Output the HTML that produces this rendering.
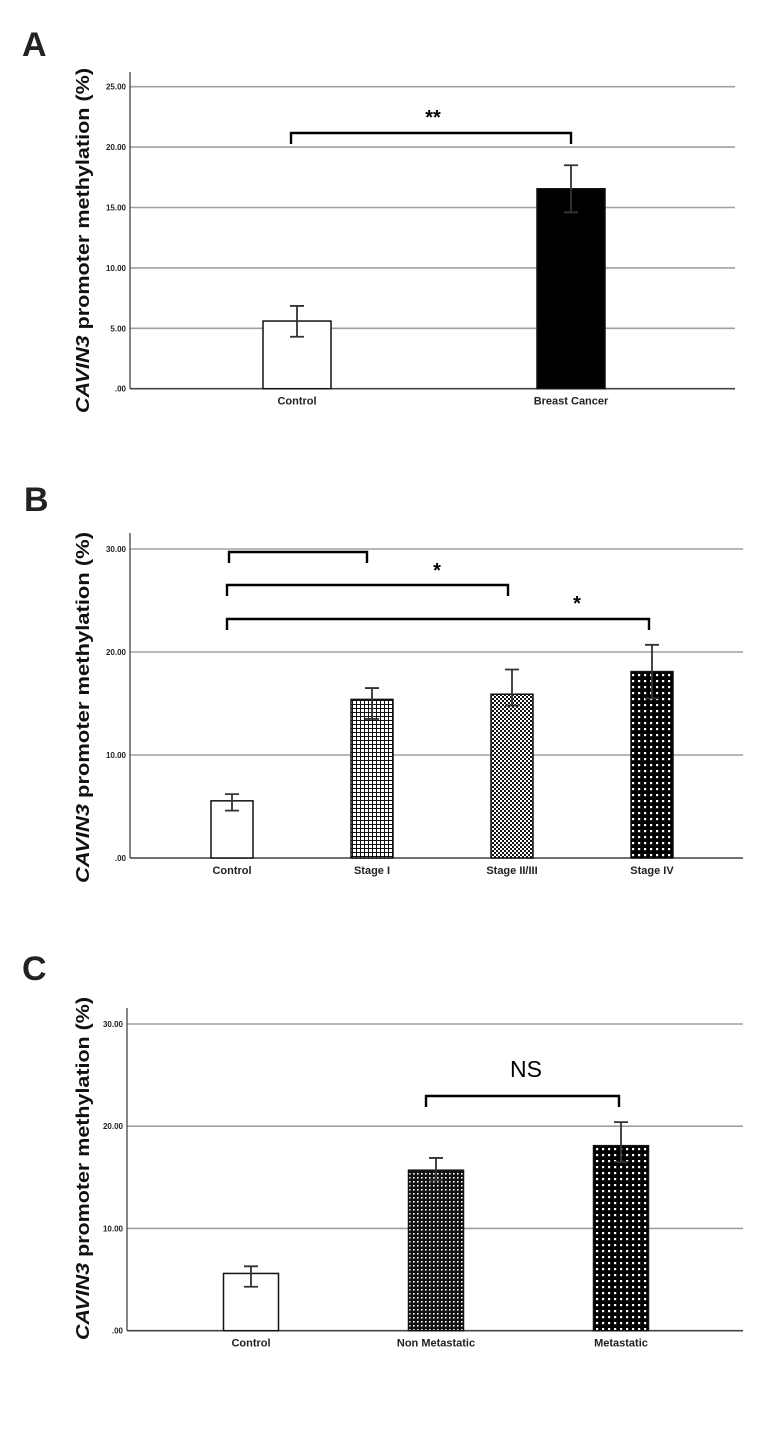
<!DOCTYPE html>
<html><head><meta charset="utf-8"><style>
html,body{margin:0;padding:0;background:#fff;}
svg{display:block;}
text{font-family:"Liberation Sans Narrow","Liberation Sans",sans-serif;}
</style></head><body>
<svg id="fig" width="771" height="1437" viewBox="0 0 771 1437" xmlns="http://www.w3.org/2000/svg">
<defs>
<pattern id="pGrid" width="4" height="4" patternUnits="userSpaceOnUse"><rect width="4" height="4" fill="#fff"/><path d="M0 0.5H4M0.5 0V4" stroke="#111" stroke-width="1"/></pattern>
<pattern id="pChk" width="4" height="4" patternUnits="userSpaceOnUse"><rect width="4" height="4" fill="#111"/><rect x="0" y="0" width="2" height="2" fill="#fff"/><rect x="2" y="2" width="2" height="2" fill="#fff"/></pattern>
<pattern id="pDot" width="6" height="6" patternUnits="userSpaceOnUse"><rect width="6" height="6" fill="#000"/><rect x="2" y="2" width="2.2" height="2.2" fill="#fff"/></pattern>
<pattern id="pFine" width="4" height="4" patternUnits="userSpaceOnUse"><rect width="4" height="4" fill="#111"/><rect x="1" y="1" width="1.6" height="1.6" fill="#fff"/></pattern>
</defs>
</svg>
<script>
// Panel A data
const catsA = ["Control","Breast Cancer"];
const valsA = [5.6, 16.55];
const errLoA = [4.3, 14.6];
const errHiA = [6.85, 18.5];
const ticksA = [0,5,10,15,20,25];
const tickLabelsA = [".00","5.00","10.00","15.00","20.00","25.00"];
// Panel B data
const catsB = ["Control","Stage I","Stage II/III","Stage IV"];
const valsB = [5.55, 15.4, 15.9, 18.1];
const errLoB = [4.6, 13.5, 14.8, 15.5];
const errHiB = [6.2, 16.5, 18.3, 20.7];
const ticksB = [0,10,20,30];
const tickLabelsB = [".00","10.00","20.00","30.00"];
// Panel C data
const catsC = ["Control","Non Metastatic","Metastatic"];
const valsC = [5.6, 15.7, 18.1];
const errLoC = [4.3, 14.7, 16.5];
const errHiC = [6.3, 16.9, 20.4];
const ticksC = [0,10,20,30];
const tickLabelsC = [".00","10.00","20.00","30.00"];

const NS="http://www.w3.org/2000/svg";
const svg=document.getElementById('fig');
function mk(tag,attrs,parent){const e=document.createElementNS(NS,tag);for(const k in attrs)e.setAttribute(k,attrs[k]);(parent||svg).appendChild(e);return e;}

function panel(cfg){
  const g=mk('g',{});
  
  
  const y=v=>cfg.y0-(v/cfg.vmax)*(cfg.y0-cfg.yTop);
  const lbl=mk('text',{x:cfg.lx,y:cfg.ly,'font-size':34,'font-weight':'bold',fill:'#222','font-family':'Liberation Sans, sans-serif'},g);
  lbl.textContent=cfg.id.toUpperCase();
  
  
  cfg.ticks.forEach((t,i)=>{
    if(t>0){const gl=mk('line',{x1:cfg.ax,x2:cfg.right,y1:y(t),y2:y(t),stroke:'#a0a0a0','stroke-width':1.6},g);
      
      }
    const tl=mk('text',{x:cfg.ax-4,y:y(t)+3,'font-size':8,'font-weight':'bold','text-anchor':'end',fill:'#222'},g);
    tl.textContent=cfg.tickLabels[i];
    
    
  });
  const ya=mk('line',{x1:cfg.ax,x2:cfg.ax,y1:cfg.axTop,y2:cfg.y0,stroke:'#444','stroke-width':1.3},g);
  
  
  const xa=mk('line',{x1:cfg.ax,x2:cfg.right,y1:cfg.y0,y2:cfg.y0,stroke:'#444','stroke-width':1.6},g);
  
  
  cfg.cats.forEach((c,i)=>{
    const cx=cfg.c0+i*cfg.step;
    const b=mk('rect',{x:cx-cfg.bw/2,y:y(cfg.vals[i]),width:cfg.bw,height:cfg.y0-y(cfg.vals[i]),fill:cfg.fills[i],stroke:'#111','stroke-width':1.5},g);
    
    
    const e=mk('path',{d:`M${cx} ${y(cfg.errLo[i])}V${y(cfg.errHi[i])}M${cx-7} ${y(cfg.errHi[i])}H${cx+7}M${cx-7} ${y(cfg.errLo[i])}H${cx+7}`,stroke:'#333','stroke-width':1.8,fill:'none'},g);
    
    
    const t=mk('text',{x:cx,y:cfg.y0+16,'font-size':11,'font-weight':'bold','text-anchor':'middle',fill:'#222'},g);
    t.textContent=c;
    
    
  });
  const cy=(cfg.titleTop+cfg.titleBot)/2;
  const tt=mk('text',{x:0,y:0,'font-size':18,'font-weight':'bold','text-anchor':'middle',fill:'#111','font-family':'Liberation Sans, sans-serif',transform:`translate(${cfg.titleX},${cy}) rotate(-90)`,textLength:cfg.titleBot-cfg.titleTop,lengthAdjust:'spacingAndGlyphs'},g);
  tt.innerHTML='<tspan font-style="italic">CAVIN3</tspan> promoter methylation (%)';
  
  
  cfg.brackets.forEach(br=>{
    const p=mk('path',{d:`M${br.x1} ${br.y+11}V${br.y}H${br.x2}V${br.y+11}`,stroke:'#000','stroke-width':2.4,fill:'none'},g);
    
    
  });
  cfg.marks.forEach(m=>{
    const t=mk('text',{x:m.x,y:m.y,'font-size':m.fs,'font-weight':m.serif?'normal':'bold','text-anchor':'middle',fill:'#000','font-family':m.serif?'Liberation Serif, serif':'Liberation Sans, sans-serif'},g);
    t.textContent=m.t;
    
    
  });
}

panel({id:'a',cats:catsA,vals:valsA,errLo:errLoA,errHi:errHiA,ticks:ticksA,tickLabels:tickLabelsA,
  vmax:25,y0:388.7,yTop:86.7,axTop:72,ax:130,right:735,c0:297,step:274,bw:68,
  fills:['#fff','#000'],lx:22,ly:56,titleX:89,titleTop:68,titleBot:413,
  brackets:[{x1:291,x2:571,y:133}],marks:[{t:'**',x:433,y:124,fs:20}]});
panel({id:'b',cats:catsB,vals:valsB,errLo:errLoB,errHi:errHiB,ticks:ticksB,tickLabels:tickLabelsB,
  vmax:30,y0:858,yTop:549,axTop:533,ax:130,right:743,c0:232,step:140,bw:42,
  fills:['#fff','url(#pGrid)','url(#pChk)','url(#pDot)'],lx:24,ly:511,titleX:89,titleTop:532,titleBot:883,
  brackets:[{x1:229,x2:367,y:552},{x1:227,x2:508,y:585},{x1:227,x2:649,y:619}],
  marks:[{t:'*',x:437,y:577,fs:20},{t:'*',x:577,y:610,fs:20}]});
panel({id:'c',cats:catsC,vals:valsC,errLo:errLoC,errHi:errHiC,ticks:ticksC,tickLabels:tickLabelsC,
  vmax:30,y0:1330.7,yTop:1024,axTop:1008,ax:127,right:743,c0:251,step:185,bw:55,
  fills:['#fff','url(#pFine)','url(#pDot)'],lx:22,ly:980,titleX:89,titleTop:997,titleBot:1340,
  brackets:[{x1:426,x2:619,y:1096}],marks:[{t:'NS',x:526,y:1077,fs:23,serif:true}]});
</script>
</body></html>
